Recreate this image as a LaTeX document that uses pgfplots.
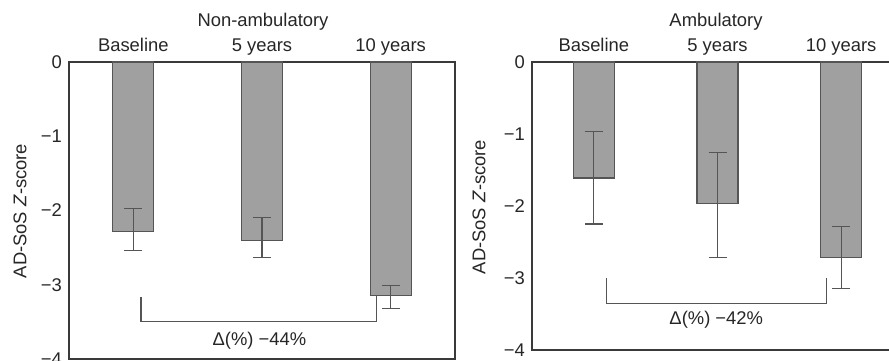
\documentclass[border=0pt]{standalone}
\usepackage{fontspec}
\setmainfont{Liberation Sans}
\usepackage{pgfplots}
\pgfplotsset{compat=1.18}
\definecolor{barfill}{HTML}{A0A0A0}
\definecolor{baredge}{HTML}{555555}
\definecolor{axisc}{HTML}{3A3A3A}
\pgfplotsset{mystyle/.style={
  scale only axis, anchor=north west, clip=false,
  ybar, bar width=20.5pt,
  xmin=-0.5, xmax=2.5, ymin=-4, ymax=0,
  xtick={0,1,2}, xticklabels={Baseline,5 years,10 years},
  xticklabel pos=top,
  xticklabel style={text height=1.6ex, text depth=0.1ex, anchor=south, yshift=1pt},
  ytick={-4,-3,-2,-1,0}, yticklabels={−4,−3,−2,−1,0},
  major tick length=0pt,
  axis line style={axisc, line width=0.6pt},
  tick label style={font=\fontsize{9.2pt}{11pt}\selectfont, text=black!85},
  every axis plot/.append style={fill=barfill, draw=baredge, line width=0.6pt},
  error bars/error bar style={baredge, line width=0.6pt},
  error bars/error mark options={baredge, line width=0.6pt, mark size=4.5pt, rotate=90},
}}
\begin{document}
\begin{tikzpicture}[font=\fontsize{9.2pt}{11pt}\selectfont]
\path[use as bounding box] (0,0) rectangle (444.5pt,180pt);
% Left panel
\begin{axis}[mystyle, at={(34.5pt,149pt)}, width=193pt, height=148.5pt]
\addplot[error bars/.cd, y dir=both, y explicit] coordinates {
  (0,-2.28) += (0,0.31) -= (0,0.26)
  (1,-2.40) += (0,0.31) -= (0,0.23)
  (2,-3.15) += (0,0.14) -= (0,0.17)
};
\draw[baredge, line width=0.6pt] (axis cs:0.06,-3.17) -- (axis cs:0.06,-3.50) -- (axis cs:1.89,-3.50) -- (axis cs:1.89,-3.15);
\node[text=black!85] at (axis cs:0.98,-3.76) {Δ(\%) −44\%};
\end{axis}
% Right panel
\begin{axis}[mystyle, at={(266pt,149pt)}, width=185.5pt, height=144pt]
\addplot[error bars/.cd, y dir=both, y explicit] coordinates {
  (0,-1.61) += (0,0.64) -= (0,0.64)
  (1,-1.97) += (0,0.71) -= (0,0.74)
  (2,-2.71) += (0,0.42) -= (0,0.44)
};
\draw[baredge, line width=0.6pt] (axis cs:0.1,-3.0) -- (axis cs:0.1,-3.35) -- (axis cs:1.88,-3.35) -- (axis cs:1.88,-3.0);
\node[text=black!85] at (axis cs:0.99,-3.58) {Δ(\%) −42\%};
\end{axis}
\node[text=black!85] at (131.5pt,169pt) {Non-ambulatory};
\node[text=black!85] at (358pt,169pt) {Ambulatory};
\node[rotate=90, text=black!85] at (10pt,74.5pt) {AD-SoS \textit{Z}-score};
\node[rotate=90, text=black!85] at (239.5pt,76.5pt) {AD-SoS \textit{Z}-score};
\end{tikzpicture}
\end{document}
